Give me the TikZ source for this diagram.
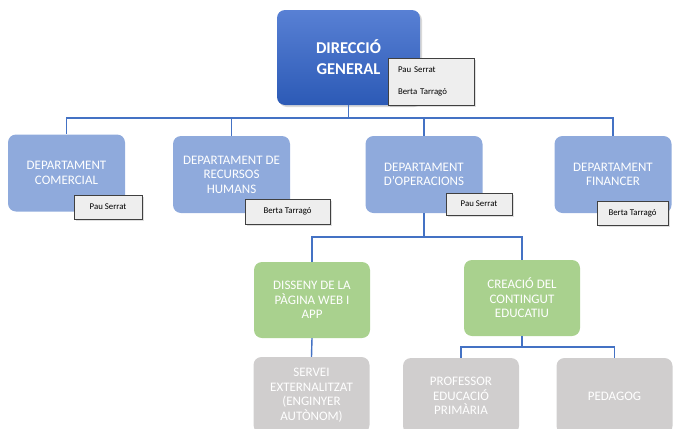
\documentclass[tikz,border=0pt]{standalone}
\usepackage{fontspec}
\setmainfont{Carlito}
\usepackage{tikz}
\usetikzlibrary{positioning, shadows}
\definecolor{topblue}{RGB}{88,128,212}
\definecolor{botblue}{RGB}{44,90,182}
\definecolor{deptblue}{RGB}{143,170,220}
\definecolor{taskgreen}{RGB}{169,209,142}
\definecolor{staffgray}{RGB}{208,206,206}
\definecolor{whofill}{RGB}{238,238,238}
\definecolor{linkblue}{RGB}{68,114,196}
\tikzstyle{box}=[rounded corners=8pt, text=white, align=center, inner sep=2pt, font=\fontsize{13}{14.5}\selectfont]
\tikzstyle{dept}=[box, fill=deptblue, minimum width=117pt, minimum height=77pt]
\tikzstyle{task}=[box, fill=taskgreen, minimum width=116pt, minimum height=76pt]
\tikzstyle{staff}=[box, fill=staffgray, minimum width=116pt, minimum height=76pt]
\tikzstyle{who}=[draw=black!75, line width=0.8pt, fill=whofill, inner sep=2pt, font=\fontsize{8.8}{10}\selectfont, drop shadow={opacity=0.25, shadow xshift=1.5pt, shadow yshift=-1.5pt}]
\tikzstyle{conn}=[draw=linkblue, line width=1.4pt]

\begin{document}
\begin{tikzpicture}[x=1pt, y=-1pt]
\useasboundingbox (0,0) rectangle (673,429);
\clip (0,0) rectangle (673,429);

% bus lines
\coordinate (bus0) at (0,118);
\coordinate (bus1) at (0,237);
\coordinate (bus2) at (0,347);

% top
\node[box, top color=topblue, bottom color=botblue, minimum width=143pt, minimum height=95pt, font=\fontsize{16.5}{21}\selectfont\bfseries, drop shadow={opacity=0.3, shadow xshift=2pt, shadow yshift=-2pt}] (dir) at (348.5,57.5) {DIRECCIÓ\\GENERAL};
\node[who, text width=66pt, inner xsep=10pt, minimum height=47pt, align=left, font=\fontsize{8.8}{22}\selectfont] (dirwho) at (431,81.5) {Pau Serrat\\Berta Tarragó};

% departments
\node[dept] (dc) at (66.5,173) {DEPARTAMENT\\COMERCIAL};
\node[dept] (drh) at (231.5,174.5) {DEPARTAMENT DE\\RECURSOS\\HUMANS};
\node[dept] (do) at (424,174.5) {DEPARTAMENT\\D'OPERACIONS};
\node[dept] (df) at (613,174.5) {DEPARTAMENT\\FINANCER};

\node[who, minimum width=68pt, minimum height=24pt] (dcwho) at (108,207) {Pau Serrat};
\node[who, minimum width=85pt, minimum height=25pt] (drhwho) at (287.5,211.5) {Berta Tarragó};
\node[who, minimum width=66pt, minimum height=22pt] (dowho) at (479,204) {Pau Serrat};
\node[who, minimum width=71pt, minimum height=24pt] (dfwho) at (632.5,213) {Berta Tarragó};

% operations
\node[task] (web) at (312,300) {DISSENY DE LA\\PÀGINA WEB I\\APP};
\node[task] (edu) at (522,298) {CREACIÓ DEL\\CONTINGUT\\EDUCATIU};

\node[staff] (ext) at (311.5,395) {SERVEI\\EXTERNALITZAT\\(ENGINYER\\AUTÒNOM)};
\node[staff] (prof) at (461,396) {PROFESSOR\\EDUCACIÓ\\PRIMÀRIA};
\node[staff] (ped) at (614.5,396) {PEDAGOG};

% connectors
\foreach \d in {dc,drh,do,df}
{
\draw[conn] (dir.south) -- (dir.south |- bus0) -| (\d.north);
}
\foreach \t in {web,edu}
{
\draw[conn] (do.south) -- (do.south |- bus1) -| (\t.north);
}
\draw[conn] (web.south) -- (ext.north);
\foreach \s in {prof,ped}
{
\draw[conn] (edu.south) -- (edu.south |- bus2) -| (\s.north);
}
\end{tikzpicture}
\end{document}
